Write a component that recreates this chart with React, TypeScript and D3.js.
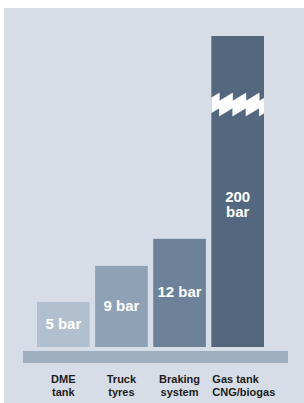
import React from "react";
import * as d3 from "d3";

const categories = ["DME tank", "Truck tyres", "Braking system", "Gas tank CNG/biogas"];
const labelLines = [["DME", "tank"], ["Truck", "tyres"], ["Braking", "system"], ["Gas tank", "CNG/biogas"]];
const values = [5, 9, 12, 200];
const valueLabels = [["5 bar"], ["9 bar"], ["12 bar"], ["200", "bar"]];
const colors = ["#b2bfce", "#8ea1b5", "#6d8298", "#53687f"];

const W = 304;
const H = 403;
const baseY = 347;

export default function App() {
  const x = d3.scaleBand<string>().domain(categories).range([37, 264]).paddingInner(0.094);
  // broken axis: the tallest bar is clamped at the top of the panel
  const y = d3.scaleLinear().domain([0, 34.5]).range([baseY, 36]).clamp(true);
  const bw = x.bandwidth();
  const font = "'Liberation Sans', Arial, Helvetica, sans-serif";

  // sawtooth stripe for the axis break
  const breakPath = (x0: number, x1: number, tw: number, top: number) => {
    const n = Math.ceil((x1 - x0) / tw);
    const r = 8;
    const h = 15;
    let p = "";
    for (let i = 0; i < n; i++) {
      const xs = x0 + i * tw;
      p += `M${xs},${top + r} L${xs + tw},${top} L${xs + tw},${top + h} L${xs},${top + r + h} Z `;
    }
    return p;
  };

  return (
    <svg width={W} height={H} style={{ position: "absolute", left: 0, top: 0 }}>
      <rect x={4} y={8} width={300} height={395} fill="#d6dde6" />
      {categories.map((c, i) => {
        const bx = x(c)!;
        const top = y(values[i]);
        const lines = valueLabels[i];
        const clamped = values[i] > y.domain()[1];
        const cy = clamped ? 217 : (top + baseY) / 2 + 4.5;
        return (
          <g key={c}>
            <clipPath id={`clip${i}`}>
              <rect x={bx} y={top} width={bw} height={baseY - top} />
            </clipPath>
            <rect x={bx} y={top} width={bw} height={baseY - top} fill={colors[i]} />
            {clamped && (
              <path
                d={breakPath(bx - 5.3, bx + bw + 14, 13.3, 93)}
                fill="#fff"
                stroke="#fff"
                strokeWidth={0.5}
                clipPath={`url(#clip${i})`}
              />
            )}
            {lines.map((l, j) => (
              <text
                key={j}
                x={bx + bw / 2}
                y={cy - (lines.length - 1 - j) * 15}
                textAnchor="middle"
                fill="#fff"
                fontFamily={font}
                fontWeight="bold"
                fontSize={15}
              >
                {l}
              </text>
            ))}
            {labelLines[i].map((l, j) => (
              <text
                key={j}
                x={i === 3 ? bx + 1 : bx + bw / 2}
                y={383 + j * 13}
                fill="#1c1c1c"
                fontFamily={font}
                fontWeight="bold"
                fontSize={11}
                textAnchor={i === 3 ? "start" : "middle"}
              >
                {l}
              </text>
            ))}
          </g>
        );
      })}
      <rect x={23} y={351} width={265} height={12} fill="#9eaec0" />
    </svg>
  );
}
